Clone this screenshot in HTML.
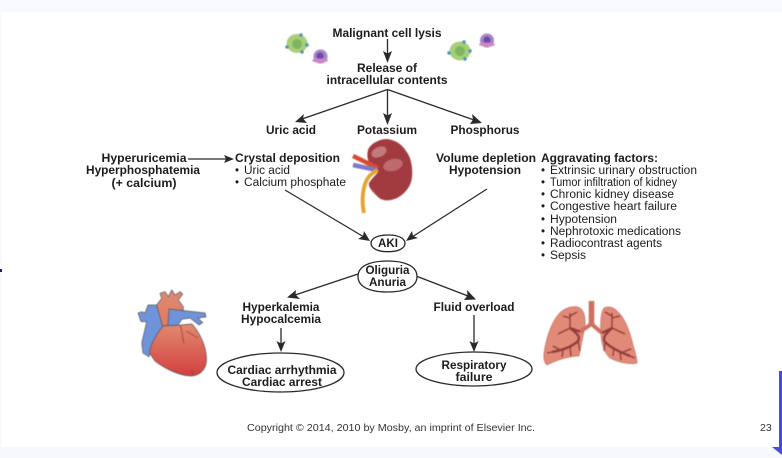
<!DOCTYPE html>
<html>
<head>
<meta charset="utf-8">
<style>
html,body{margin:0;padding:0;background:#fff;width:782px;height:458px;overflow:hidden}
svg{display:block}
text{font-family:"Liberation Sans",Arial,sans-serif;font-size:11.5px;fill:#1c1c1c}
.b{font-weight:bold}
.m{text-anchor:middle}
.l{stroke:#2a2a2a;stroke-width:1.3;fill:none}
.e{fill:#fff;stroke:#2a2a2a;stroke-width:1.3}
.h{fill:#2a2a2a}
.pic{filter:blur(.6px)}
.soft{filter:blur(.3px)}
</style>
</head>
<body>
<svg width="782" height="458" viewBox="0 0 782 458" xmlns="http://www.w3.org/2000/svg">
<defs>
<linearGradient id="hg" x1="0" y1="0" x2="0" y2="1"><stop offset="0" stop-color="#e38a70"/><stop offset="1" stop-color="#d33f3f"/></linearGradient>
<linearGradient id="ag" x1="0" y1="0" x2="0" y2="1"><stop offset="0" stop-color="#e08a72"/><stop offset="1" stop-color="#e07a62"/></linearGradient>
</defs>
<rect width="782" height="458" fill="#fff"/>
<rect width="782" height="12" fill="#f8f9fe"/>
<rect y="447" width="782" height="11" fill="#f6f8fe"/>
<rect x="0" width="2" height="458" fill="#f8f9fe"/>
<rect x="0" y="269" width="2" height="3" fill="#1a1a8c"/>
<rect x="779" y="371" width="3" height="78" fill="#4a4ae0"/>
<polygon points="772,447 782,447 782,455" fill="#4a4ae0"/>

<!-- cells -->
<g class="pic">
<ellipse cx="297" cy="43.5" rx="10.5" ry="9.5" fill="#a8cf78"/><ellipse cx="297" cy="44" rx="5" ry="5" fill="#80b560"/>
<circle cx="301" cy="35" r="1.7" fill="#4a8fc0"/><circle cx="307" cy="45" r="1.7" fill="#4a8fc0"/><circle cx="302" cy="52" r="1.7" fill="#4a8fc0"/><circle cx="287" cy="47" r="1.7" fill="#4a8fc0"/>
<ellipse cx="320.5" cy="56.5" rx="7" ry="7" fill="#a684c6"/><ellipse cx="320" cy="56" rx="3.5" ry="3.5" fill="#6a4aa8"/><ellipse cx="320" cy="60.5" rx="8" ry="2" fill="#cf86bd"/>
<ellipse cx="460" cy="51" rx="10.5" ry="9.5" fill="#a8cf78"/><ellipse cx="460" cy="51" rx="5" ry="5" fill="#80b560"/>
<circle cx="464" cy="42" r="1.7" fill="#4a8fc0"/><circle cx="470" cy="51" r="1.7" fill="#4a8fc0"/><circle cx="465" cy="59" r="1.7" fill="#4a8fc0"/><circle cx="449" cy="53" r="1.7" fill="#4a8fc0"/>
<ellipse cx="487" cy="40.5" rx="7" ry="7" fill="#a684c6"/><ellipse cx="487" cy="40" rx="3.5" ry="3.5" fill="#6a4aa8"/><ellipse cx="487" cy="44.5" rx="8" ry="2" fill="#cf86bd"/>
</g>

<!-- kidney -->
<g class="pic">
<path d="M368 150 C370 144 379 139 387 139 C395 140 402 144 406 151 C411 157 413 168 412 177 C411 188 403 195 397 198 C390 201 382 202 377 196 C372 191 368 187 369 183 C372 178 376 175 378 172 C374 170 370 167 369 162 C367 158 367 154 368 150Z" fill="#a23b40"/>
<ellipse cx="379" cy="152" rx="8" ry="5" fill="#c4797a" transform="rotate(-25 379 152)"/>
<ellipse cx="393" cy="165" rx="10" ry="6" fill="#bf6a6c" transform="rotate(-15 393 165)"/>
<path d="M353 156 L378 168" stroke="#d94a33" stroke-width="4.5" fill="none"/>
<path d="M353 165 L377 170" stroke="#7f78c4" stroke-width="4.5" fill="none"/>
<path d="M378 170 C370 174 367 178 365 184 C362 194 362 204 364 213" stroke="#e3a332" stroke-width="3.8" fill="none"/>
</g>

<!-- heart -->
<g class="pic" stroke="#55555f" stroke-width=".7">
<path d="M148 305 L156.7 305 L163 326.7 L153 341.7 L149 356.7 L143 353 L141.7 343 L146.7 321.7 L141 321.7 L138 313 L141.7 311.7 L145 313Z" fill="#6f93d8"/>
<path d="M160 293.3 L165 291.7 L168.3 296.7 L171.7 290 L175 295 L180 291.7 L182.7 294 L178.3 300 L183.3 306.7 L183.3 311.7 L170 311.7 L168.3 325 L163.3 326.7 L161.7 323.3 L156.7 305 L161.7 298.3Z" fill="url(#ag)"/>
<path d="M163 326 L180 325 L192 324 C199 332 206 345 206.5 358 C207 368 201 375 192 376 C180 376 165 369 155 361 L149.5 353 C150 345 156 335 163 326Z" fill="url(#hg)"/>
<path d="M169 309 L205 313 L206 317 L198 318 L202.7 322.7 L199 325 L190 318 L181.7 319.3 L178 325 L168 325.7 L168.5 316Z" fill="#6f93d8"/>
<path d="M180 325 C183 332 182 338 184 343 M186 331 L198 338 M192 370 L193 376" fill="none" stroke="#8a3a32"/>
</g>

<!-- lungs -->
<g class="pic">
<path d="M573 306.7 C578 306 582 308 584 314 C586 320 585 328 583 336 L579 356 C570 356 556 360 547 365 C544 362 543 358 544.5 350 C547 335 553 318 562 311 C566 308 570 307 573 306.7Z" fill="#e28a78" stroke="#c9705f" stroke-width=".7"/>
<path d="M604 308 C608 306 613 307 617 311 C625 318 630 332 633 345 C635 352 637 358 637 363 C630 365 618 362 610 358 C604 352 601 343 601 333 C600 323 601 312 604 308Z" fill="#e28a78" stroke="#c9705f" stroke-width=".7"/>
<rect x="588.7" y="301" width="5.6" height="24" fill="#cf6f60"/>
<path d="M591.5 324 L580 331.7 M591.5 324 L602 333" stroke="#cf6f60" stroke-width="4" fill="none"/>
<path d="M580 331.7 L570 328 M570 328 C576 333 581 336 578 341 C572 347 563 350 552 352" stroke="#923c3a" stroke-width="2.3" fill="none"/>
<path d="M570 328 L558 334 M570 328 L570 313 M570 318 L563 316 M570 316 L577 312 M578 341 L580 351 M570 346 L571 356 M560 350 L553 346 M563 350 L562 357 M552 352 L547 353" stroke="#923c3a" stroke-width="1.3" fill="none"/>
<path d="M602 333 L612 328 M612 328 C606 334 602 337 605 342 C611 348 620 352 630 356" stroke="#923c3a" stroke-width="2.3" fill="none"/>
<path d="M612 328 L625 334 M612 328 L612 313 M612 318 L620 316 M612 316 L605 312 M605 342 L604 351 M614 347 L613 356 M623 352 L631 349 M620 352 L621 360 M630 356 L635 358" stroke="#923c3a" stroke-width="1.3" fill="none"/>
</g>

<g class="soft">
<!-- connectors -->
<g class="l">
<path d="M387.5 39 V54"/>
<path d="M387.5 89.5 L302 119"/>
<path d="M387.5 89.5 V116"/>
<path d="M387.5 89.5 L474 120"/>
<path d="M188 159 H226"/>
<path d="M285 190 L364 237"/>
<path d="M487 189 L412 237"/>
<path d="M358 274 L295 295"/>
<path d="M416 276 L468 296"/>
<path d="M281 328 V345"/>
<path d="M474 315 V345"/>
</g>
<g class="h">
<polygon points="387.5,63 383,51 387.5,53.5 392,51"/>
<polygon points="387.5,125 383,113 387.5,115.5 392,113"/>
<polygon points="295,122 304,114 303,118.5 307,123"/>
<polygon points="482,123 470,124 473,119.5 472,114"/>
<polygon points="234,159 224,155 226,159 224,163"/>
<polygon points="370,241 358,239 363,236 364,231"/>
<polygon points="406,241 412,231 413,236 418,238"/>
<polygon points="287,297.5 296,290 295.5,294.5 300,299"/>
<polygon points="476,299.5 464,300 467.5,295.5 467,290"/>
<polygon points="281,352 276.5,341 281,343.5 285.5,341"/>
<polygon points="474,352 469.5,341 474,343.5 478.5,341"/>
</g>

<!-- ellipses (slightly squared shoulders like the reference) -->
<path class="e" d="M371 243.3 C371 238 378 235 388 235 C398 235 405 238 405 243.3 C405 248.6 398 251.7 388 251.7 C378 251.7 371 248.6 371 243.3Z"/>
<path class="e" d="M358 276.5 C358 266 370 261 387.5 261 C405 261 417 266 417 276.5 C417 287 405 292 387.5 292 C370 292 358 287 358 276.5Z"/>
<ellipse class="e" cx="280.5" cy="372.5" rx="63.5" ry="19.5"/>
<ellipse class="e" cx="474" cy="369" rx="58" ry="17"/>

<!-- labels -->
<g class="b">
<text x="387" y="37" class="m" textLength="109" lengthAdjust="spacingAndGlyphs">Malignant cell lysis</text>
<text x="387" y="72" class="m" textLength="60" lengthAdjust="spacingAndGlyphs">Release of</text>
<text x="387" y="84" class="m" textLength="121" lengthAdjust="spacingAndGlyphs">intracellular contents</text>
<text x="291" y="134" class="m" textLength="50" lengthAdjust="spacingAndGlyphs">Uric acid</text>
<text x="387" y="134" class="m" textLength="60" lengthAdjust="spacingAndGlyphs">Potassium</text>
<text x="485" y="134" class="m" textLength="69" lengthAdjust="spacingAndGlyphs">Phosphorus</text>
<text x="144" y="162" class="m" textLength="85" lengthAdjust="spacingAndGlyphs">Hyperuricemia</text>
<text x="143" y="174" class="m" textLength="114" lengthAdjust="spacingAndGlyphs">Hyperphosphatemia</text>
<text x="144" y="187" class="m" textLength="65" lengthAdjust="spacingAndGlyphs">(+ calcium)</text>
<text x="235" y="162" textLength="105" lengthAdjust="spacingAndGlyphs">Crystal deposition</text>
<text x="436" y="162" textLength="100" lengthAdjust="spacingAndGlyphs">Volume depletion</text>
<text x="449" y="174" textLength="72" lengthAdjust="spacingAndGlyphs">Hypotension</text>
<text x="541" y="162" textLength="117" lengthAdjust="spacingAndGlyphs">Aggravating factors:</text>
<text x="388" y="247" class="m" textLength="20" lengthAdjust="spacingAndGlyphs">AKI</text>
<text x="387.5" y="274" class="m" textLength="44" lengthAdjust="spacingAndGlyphs">Oliguria</text>
<text x="387.5" y="286" class="m" textLength="37" lengthAdjust="spacingAndGlyphs">Anuria</text>
<text x="281" y="311" class="m" textLength="77" lengthAdjust="spacingAndGlyphs">Hyperkalemia</text>
<text x="281" y="323" class="m" textLength="80" lengthAdjust="spacingAndGlyphs">Hypocalcemia</text>
<text x="474" y="311" class="m" textLength="81" lengthAdjust="spacingAndGlyphs">Fluid overload</text>
<text x="282" y="374" class="m" textLength="109" lengthAdjust="spacingAndGlyphs">Cardiac arrhythmia</text>
<text x="282" y="386" class="m" textLength="80" lengthAdjust="spacingAndGlyphs">Cardiac arrest</text>
<text x="474" y="369" class="m" textLength="65" lengthAdjust="spacingAndGlyphs">Respiratory</text>
<text x="474" y="381" class="m" textLength="37" lengthAdjust="spacingAndGlyphs">failure</text>
</g>
<g>
<text x="235" y="174">•</text><text x="244" y="174" textLength="46" lengthAdjust="spacingAndGlyphs">Uric acid</text>
<text x="235" y="186">•</text><text x="244" y="186" textLength="102" lengthAdjust="spacingAndGlyphs">Calcium phosphate</text>
<text x="541" y="174">•</text><text x="550" y="174" textLength="147" lengthAdjust="spacingAndGlyphs">Extrinsic urinary obstruction</text>
<text x="541" y="186">•</text><text x="550" y="186" textLength="127" lengthAdjust="spacingAndGlyphs">Tumor infiltration of kidney</text>
<text x="541" y="198">•</text><text x="550" y="198" textLength="124" lengthAdjust="spacingAndGlyphs">Chronic kidney disease</text>
<text x="541" y="210">•</text><text x="550" y="210" textLength="127" lengthAdjust="spacingAndGlyphs">Congestive heart failure</text>
<text x="541" y="223">•</text><text x="550" y="223" textLength="67" lengthAdjust="spacingAndGlyphs">Hypotension</text>
<text x="541" y="235">•</text><text x="550" y="235" textLength="131" lengthAdjust="spacingAndGlyphs">Nephrotoxic medications</text>
<text x="541" y="247">•</text><text x="550" y="247" textLength="112" lengthAdjust="spacingAndGlyphs">Radiocontrast agents</text>
<text x="541" y="259">•</text><text x="550" y="259" textLength="36" lengthAdjust="spacingAndGlyphs">Sepsis</text>
</g>
</g>
<text x="391" y="431" class="m" style="font-size:10.5px;fill:#333" textLength="288" lengthAdjust="spacingAndGlyphs">Copyright © 2014, 2010 by Mosby, an imprint of Elsevier Inc.</text>
<text x="760" y="431" style="font-size:10.5px;fill:#333">23</text>
</svg>
</body>
</html>
